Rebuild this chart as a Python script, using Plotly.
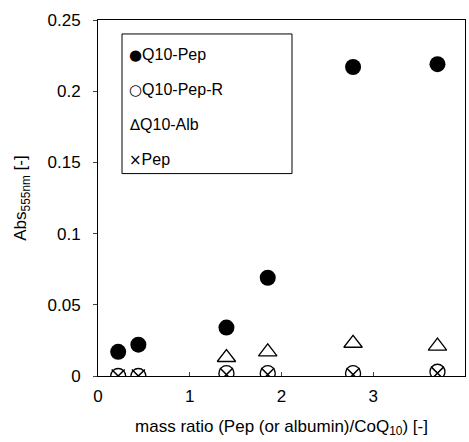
import plotly.graph_objects as go

x_vals = [0.22, 0.44, 1.4, 1.85, 2.78, 3.7]
q10_pep = [0.017, 0.022, 0.034, 0.069, 0.217, 0.219]
q10_pep_r = [0.0, 0.0, 0.002, 0.002, 0.002, 0.003]
x_alb = [1.4, 1.85, 2.78, 3.7]
q10_alb = [0.013, 0.017, 0.023, 0.021]
pep = [0.0, 0.0, 0.001, 0.001, 0.001, 0.002]

legend_glyphs = ["●", "○", "∆", "×"]
legend_labels = ["Q10-Pep", "Q10-Pep-R", "Q10-Alb", "Pep"]
legend_y = [0.902, 0.804, 0.706, 0.608]

fig = go.Figure()
fig.add_trace(go.Scatter(x=x_vals, y=q10_pep, mode="markers", name="Q10-Pep",
                         marker=dict(symbol="circle", size=16, color="black")))
fig.add_trace(go.Scatter(x=x_vals, y=q10_pep_r, mode="markers", name="Q10-Pep-R",
                         marker=dict(symbol="circle-open", size=15, color="black", line=dict(width=1.3))))
fig.add_trace(go.Scatter(x=x_alb, y=q10_alb, mode="markers", name="Q10-Alb",
                         marker=dict(symbol="triangle-up-open", size=16, color="black", line=dict(width=1.3))))
fig.add_trace(go.Scatter(x=x_vals, y=pep, mode="markers", name="Pep",
                         marker=dict(symbol="x-thin-open", size=13, color="black", line=dict(width=1.5))))

fam = "Liberation Sans, Arial, sans-serif"
tick_font = dict(family=fam, size=17, color="black")
title_font = dict(family=fam, size=17, color="black")
leg_font = dict(family=fam, size=16, color="black")

fig.add_shape(type="rect", xref="paper", yref="paper", x0=0.0654, x1=0.5286, y0=0.5686, y1=0.9608,
              line=dict(color="black", width=1), fillcolor="white", layer="below")
for g, lab, ly in zip(legend_glyphs, legend_labels, legend_y):
    fig.add_annotation(xref="paper", yref="paper", x=0.08, y=ly,
                       text=f"<span style='font-family:DejaVu Sans;font-size:15px'>{g}</span>{lab}",
                       showarrow=False, xanchor="left", yanchor="middle", font=leg_font)

fig.update_layout(
    width=469, height=442,
    margin=dict(l=98, r=4, t=20, b=66),
    paper_bgcolor="white", plot_bgcolor="white",
    font=tick_font,
    showlegend=False,
    xaxis=dict(range=[0, 4], tickvals=[0, 1, 2, 3, 4], ticks="inside", ticklen=4,
               showline=True, linecolor="black", linewidth=1, mirror=True,
               showgrid=False, zeroline=False, tickfont=tick_font, ticklabelstandoff=5,
               title=dict(text="mass ratio (Pep (or albumin)/CoQ<sub>10</sub>) [-]", font=title_font, standoff=14)),
    yaxis=dict(range=[0, 0.25], tickvals=[0, 0.05, 0.1, 0.15, 0.2, 0.25],
               ticktext=["0", "0.05", "0.1", "0.15", "0.2", "0.25"],
               ticks="outside", ticklen=4, ticklabelstandoff=9,
               showline=True, linecolor="black", linewidth=1, mirror=True,
               showgrid=False, zeroline=False, tickfont=tick_font,
               title=dict(text="Abs<sub style='font-size:14px'>555nm</sub> [-]", font=title_font, standoff=16)),
)
fig.write_html("out.html")
